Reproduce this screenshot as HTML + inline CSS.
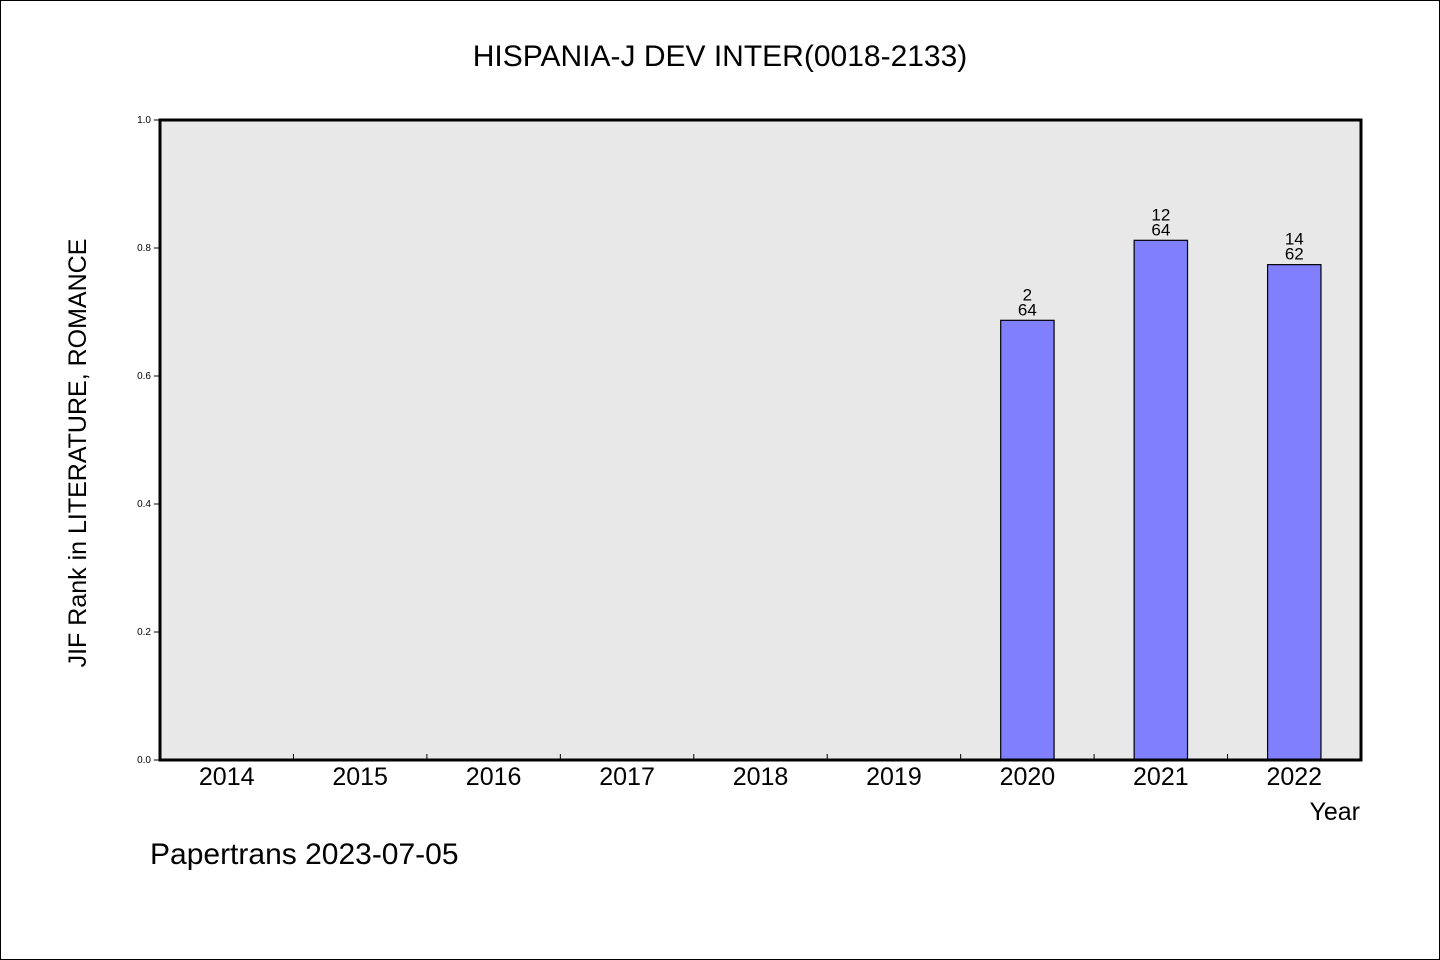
<!DOCTYPE html>
<html><head><meta charset="utf-8"><style>
body{margin:0;background:#fff}
svg{display:block;font-family:"WenQuanYi Zen Hei","Liberation Sans",sans-serif}
</style></head><body>
<svg id="chart" width="1440" height="960" xmlns="http://www.w3.org/2000/svg">
<rect x="0.5" y="0.5" width="1439" height="959" fill="#fff" stroke="#000"/>
<text x="720" y="66" text-anchor="middle" font-size="30">HISPANIA-J DEV INTER(0018-2133)</text>
<rect x="160" y="120" width="1201" height="640" fill="#e8e8e8"/>
<g id="yaxis"></g>
<g id="xaxis"></g>
<g id="bars"></g>
<rect x="160" y="120" width="1201" height="640" fill="none" stroke="#000" stroke-width="3"/>
<text transform="translate(86,453) rotate(-90)" text-anchor="middle" font-size="25">JIF Rank in LITERATURE, ROMANCE</text>
<text x="1360" y="820" text-anchor="end" font-size="25">Year</text>
<text x="150" y="864" font-size="30">Papertrans 2023-07-05</text>
</svg>
<script>
const categories=["2014","2015","2016","2017","2018","2019","2020","2021","2022"];
const values=[null,null,null,null,null,null,0.687,0.812,0.774];
const rankLabels=[null,null,null,null,null,null,"2","12","14"];
const totalLabels=[null,null,null,null,null,null,"64","64","62"];
const yTicks=[0,0.2,0.4,0.6,0.8,1.0];
const tickLabels=["0.0","0.2","0.4","0.6","0.8","1.0"];
const NS="http://www.w3.org/2000/svg";
const L=160,R=1361,T=120,B=760;
const bw=(R-L)/categories.length;
const y=v=>B-(v-0)/(1-0)*(B-T);
const x=i=>L+bw*(i+0.5);
function mk(tag,attrs,parent){const e=document.createElementNS(NS,tag);for(const k in attrs)e.setAttribute(k,attrs[k]);parent.appendChild(e);return e;}
const ya=document.getElementById('yaxis'),xa=document.getElementById('xaxis'),bg=document.getElementById('bars');
yTicks.forEach((t,i)=>{
 const l=mk('line',{x1:L-6,x2:L,y1:y(t),y2:y(t),stroke:'#000'},ya);
 
 
 const tx=mk('text',{x:L-9,y:y(t)+3,'text-anchor':'end','font-size':'10'},ya);
 tx.textContent=tickLabels[i];
 
 
});
categories.forEach((c,i)=>{
 if(i>0){const l=mk('line',{x1:L+bw*i,x2:L+bw*i,y1:B,y2:B-6,stroke:'#000'},xa);
 
 }
 const tx=mk('text',{x:x(i),y:B+25,'text-anchor':'middle','font-size':'25'},xa);
 tx.textContent=c;
 
 
 const v=values[i];
 if(v!=null){
  const w=bw*0.4;
  const r=mk('rect',{x:x(i)-w/2,y:y(v),width:w,height:B-y(v),fill:'#8080ff',stroke:'#000','stroke-width':'1.2'},bg);
  
  
  const t1=mk('text',{x:x(i),y:y(v)-20,'text-anchor':'middle','font-size':'17'},bg);
  t1.textContent=rankLabels[i];
  
  
  const t2=mk('text',{x:x(i),y:y(v)-5,'text-anchor':'middle','font-size':'17'},bg);
  t2.textContent=totalLabels[i];
  
  
 }
});
</script>
</body></html>
